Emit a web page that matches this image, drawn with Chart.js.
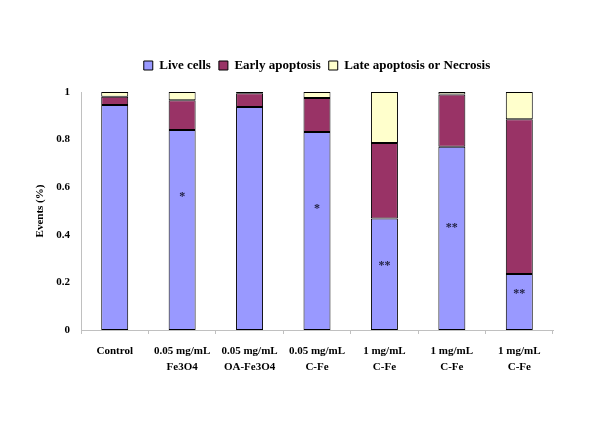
<!DOCTYPE html>
<html>
<head>
<meta charset="utf-8">
<script src="https://cdn.jsdelivr.net/npm/chart.js@4/dist/chart.umd.min.js"></script>
<style>
  html, body { margin: 0; padding: 0; background: #fff; }
  #wrap { width: 600px; height: 423px; }
</style>
</head>
<body>
<div id="wrap"><canvas id="apoptosisChart"></canvas></div>
<script>
const categories = [
  'Control',
  ['0.05 mg/mL', 'Fe3O4'],
  ['0.05 mg/mL', 'OA-Fe3O4'],
  ['0.05 mg/mL', 'C-Fe'],
  ['1 mg/mL', 'C-Fe'],
  ['1 mg/mL', 'C-Fe'],
  ['1 mg/mL', 'C-Fe']
];
const liveCells = [0.945, 0.840, 0.937, 0.832, 0.468, 0.770, 0.235];
const earlyApoptosis = [0.035, 0.125, 0.058, 0.143, 0.318, 0.220, 0.650];
const lateApoptosis = [0.020, 0.035, 0.005, 0.025, 0.214, 0.010, 0.115];
const yTicks = [0, 0.2, 0.4, 0.6, 0.8, 1];
const marks = ['', '*', '', '*', '**', '**', '**'];
const markLevels = [0, 0.56, 0, 0.51, 0.27, 0.43, 0.15];

const serif = "'Liberation Serif', 'Times New Roman', serif";

const asteriskPlugin = {
  id: 'asterisks',
  afterDatasetsDraw(chart) {
    const { ctx, scales } = chart;
    ctx.save();
    ctx.fillStyle = '#222244';
    ctx.font = 'bold 12px ' + serif;
    ctx.textAlign = 'center';
    ctx.textBaseline = 'middle';
    marks.forEach((m, i) => {
      if (!m) return;
      ctx.fillText(m, scales.x.getPixelForValue(i), scales.y.getPixelForValue(markLevels[i]));
    });
    ctx.restore();
  }
};

// centre the legend over the plot area and lift it a bit
const legendShift = {
  id: 'legendShift',
  afterLayout(chart) {
    const lg = chart.legend, area = chart.chartArea;
    const dx = (area.left + area.right) / 2 - (lg.left + lg.right) / 2;
    lg.left += dx; lg.right += dx;
    lg.top -= 10; lg.bottom -= 10;
  }
};

const ctx = document.getElementById('apoptosisChart').getContext('2d');
new Chart(ctx, {
  type: 'bar',
  data: {
    labels: categories,
    datasets: [
      { label: 'Live cells', data: liveCells, backgroundColor: '#9999FF' },
      { label: 'Early apoptosis', data: earlyApoptosis, backgroundColor: '#993366' },
      { label: 'Late apoptosis or Necrosis', data: lateApoptosis, backgroundColor: '#FFFFCC' }
    ]
  },
  options: {
    responsive: true,
    maintainAspectRatio: false,
    animation: false,
    layout: { padding: { top: 61, right: 47, left: 30, bottom: 0 } },
    datasets: {
      bar: {
        borderColor: '#000',
        borderWidth: 1,
        borderSkipped: false,
        barPercentage: 0.4,
        categoryPercentage: 1
      }
    },
    plugins: {
      legend: {
        position: 'top',
        labels: {
          boxWidth: 9,
          boxHeight: 9,
          padding: 8,
          color: '#000',
          font: { family: serif, size: 13, weight: 'bold' }
        }
      },
      tooltip: { enabled: false }
    },
    scales: {
      x: {
        stacked: true,
        grid: {
          offset: true,
          drawOnChartArea: false,
          tickLength: 4,
          color: '#c0c0c0'
        },
        border: { color: '#c0c0c0' },
        ticks: {
          color: '#000',
          maxRotation: 0,
          padding: 9,
          font: { family: serif, size: 11, weight: 'bold', lineHeight: 1.45 }
        },
        afterFit(scale) { scale.height = 93; }
      },
      y: {
        stacked: true,
        min: 0,
        max: 1,
        afterBuildTicks(scale) { scale.ticks = yTicks.map(v => ({ value: v })); },
        grid: { display: false, drawTicks: true, tickLength: 3 },
        border: { color: '#c0c0c0' },
        ticks: {
          color: '#000',
          padding: 8,
          font: { family: serif, size: 11, weight: 'bold' },
          callback: v => String(v)
        },
        title: {
          display: true,
          text: 'Events (%)',
          color: '#000',
          font: { family: serif, size: 11, weight: 'bold' }
        },
        afterFit(scale) { scale.width = 51; }
      }
    }
  },
  plugins: [asteriskPlugin, legendShift]
});
</script>
</body>
</html>
